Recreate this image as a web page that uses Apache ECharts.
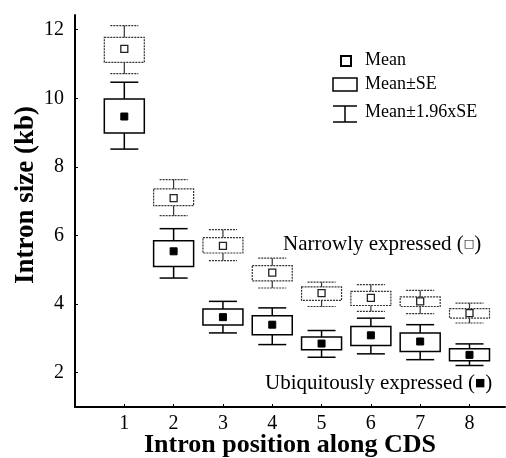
<!DOCTYPE html>
<html>
<head>
<meta charset="utf-8">
<style>
  html, body { margin: 0; padding: 0; background: #fff; }
  #chart { width: 506px; height: 458px; }
</style>
<script src="https://cdn.jsdelivr.net/npm/echarts@6/dist/echarts.min.js"></script>
</head>
<body>
<div id="chart"></div>
<script>
// intron position along CDS
var positions = [1, 2, 3, 4, 5, 6, 7, 8];
var xTicks = [1, 2, 3, 4, 5, 6, 7, 8];
var yTicks = [2, 4, 6, 8, 10, 12];

// narrowly expressed genes (kb)
var narrowMean = [11.44, 7.09, 5.70, 4.92, 4.32, 4.18, 4.08, 3.74];
var narrowSeHi = [11.78, 7.36, 5.94, 5.12, 4.50, 4.37, 4.21, 3.87];
var narrowSeLo = [11.05, 6.87, 5.49, 4.68, 4.11, 3.96, 3.93, 3.59];
var narrowCiHi = [12.12, 7.63, 6.17, 5.34, 4.64, 4.57, 4.40, 4.03];
var narrowCiLo = [10.72, 6.58, 5.27, 4.47, 3.93, 3.79, 3.72, 3.45];

// ubiquitously expressed genes (kb)
var ubiqMean = [9.47, 5.54, 3.62, 3.40, 2.85, 3.09, 2.91, 2.52];
var ubiqSeHi = [9.98, 5.85, 3.86, 3.66, 3.04, 3.35, 3.16, 2.70];
var ubiqSeLo = [8.99, 5.10, 3.39, 3.11, 2.67, 2.79, 2.62, 2.35];
var ubiqCiHi = [10.47, 6.20, 4.08, 3.89, 3.23, 3.59, 3.40, 2.84];
var ubiqCiLo = [8.52, 4.76, 3.16, 2.82, 2.45, 2.55, 2.38, 2.21];

function rows(mean, seLo, seHi, ciLo, ciHi) {
  return positions.map(function (p, i) {
    return [p, ciLo[i], seLo[i], mean[i], seHi[i], ciHi[i]];
  });
}

var SERIF = '"Liberation Serif", "DejaVu Serif", serif';

/* box + whisker 그리기 */
function boxRender(st) {
  return function (params, api) {
    var x = api.value(0);
    var ciLo = api.coord([x, api.value(1)]);
    var seLo = api.coord([x, api.value(2)]);
    var mean = api.coord([x, api.value(3)]);
    var seHi = api.coord([x, api.value(4)]);
    var ciHi = api.coord([x, api.value(5)]);
    var cx = mean[0];
    var bw = 40, cw = 28, ms = 7;
    var line = { stroke: st.color, lineWidth: st.width, lineDash: st.dash, fill: null };
    var stem = { stroke: st.color, lineWidth: st.width, fill: null };
    return {
      type: 'group',
      children: [
        { type: 'line', shape: { x1: cx, y1: ciHi[1], x2: cx, y2: seHi[1] }, style: stem },
        { type: 'line', shape: { x1: cx, y1: seLo[1], x2: cx, y2: ciLo[1] }, style: stem },
        { type: 'line', shape: { x1: cx - cw / 2, y1: ciHi[1], x2: cx + cw / 2, y2: ciHi[1] }, style: line },
        { type: 'line', shape: { x1: cx - cw / 2, y1: ciLo[1], x2: cx + cw / 2, y2: ciLo[1] }, style: line },
        { type: 'rect', shape: { x: cx - bw / 2, y: seHi[1], width: bw, height: seLo[1] - seHi[1] }, style: line },
        {
          type: 'rect',
          shape: { x: cx - ms / 2, y: mean[1] - ms / 2, width: ms, height: ms },
          style: st.filled
            ? { fill: '#000', stroke: '#000', lineWidth: 1 }
            : { fill: '#fff', stroke: '#222', lineWidth: 1.3 }
        }
      ]
    };
  };
}

var chart = echarts.init(document.getElementById('chart'));
var option = {
  animation: false,
  grid: { left: 75, top: 15, right: 1, bottom: 51, outerBoundsMode: 'none', containLabel: false },
  xAxis: {
    type: 'value',
    min: 0,
    max: 8.72,
    name: 'Intron position along CDS',
    nameLocation: 'middle',
    nameGap: 25,
    nameMoveOverlap: false,
    nameTextStyle: { fontFamily: SERIF, fontWeight: 'bold', fontSize: 26, color: '#000' },
    axisLine: { lineStyle: { color: '#000', width: 2 } },
    axisTick: { inside: true, length: 3, customValues: xTicks, lineStyle: { color: '#000' } },
    axisLabel: { customValues: xTicks, fontFamily: SERIF, fontSize: 20, color: '#000', margin: 7 },
    splitLine: { show: false }
  },
  yAxis: {
    type: 'value',
    min: 1,
    max: 12.43,
    name: 'Intron size (kb)',
    nameLocation: 'middle',
    nameGap: 35,
    nameMoveOverlap: false,
    nameTextStyle: { fontFamily: SERIF, fontWeight: 'bold', fontSize: 27, color: '#000', padding: [0, 0, 0, 32] },
    axisLine: { show: true, lineStyle: { color: '#000', width: 2 } },
    axisTick: { show: true, inside: true, length: 3, customValues: yTicks, lineStyle: { color: '#000' } },
    axisLabel: { customValues: yTicks, fontFamily: SERIF, fontSize: 20, color: '#000', margin: 11 },
    splitLine: { show: false }
  },
  series: [
    {
      name: 'Narrowly expressed',
      type: 'custom',
      renderItem: boxRender({ color: '#333', width: 1.2, dash: [2, 1], filled: false }),
      data: rows(narrowMean, narrowSeLo, narrowSeHi, narrowCiLo, narrowCiHi),
      encode: { x: 0, y: [1, 5] }
    },
    {
      name: 'Ubiquitously expressed',
      type: 'custom',
      renderItem: boxRender({ color: '#000', width: 1.5, dash: null, filled: true }),
      data: rows(ubiqMean, ubiqSeLo, ubiqSeHi, ubiqCiLo, ubiqCiHi),
      encode: { x: 0, y: [1, 5] }
    }
  ],
  graphic: [
    // legend
    { type: 'rect', shape: { x: 341, y: 56, width: 10, height: 10 }, style: { fill: '#fff', stroke: '#000', lineWidth: 2 } },
    { type: 'text', x: 365, y: 60, style: { text: 'Mean', font: '18px ' + SERIF, fill: '#000', verticalAlign: 'middle' } },
    { type: 'rect', shape: { x: 333, y: 78, width: 24, height: 13 }, style: { fill: '#fff', stroke: '#000', lineWidth: 1.5 } },
    { type: 'text', x: 365, y: 84, style: { text: 'Mean±SE', font: '18px ' + SERIF, fill: '#000', verticalAlign: 'middle' } },
    { type: 'line', shape: { x1: 333, y1: 106, x2: 357, y2: 106 }, style: { stroke: '#000', lineWidth: 1.5 } },
    { type: 'line', shape: { x1: 345, y1: 106, x2: 345, y2: 122 }, style: { stroke: '#000', lineWidth: 1.5 } },
    { type: 'line', shape: { x1: 333, y1: 122, x2: 357, y2: 122 }, style: { stroke: '#000', lineWidth: 1.5 } },
    { type: 'text', x: 365, y: 112, style: { text: 'Mean±1.96xSE', font: '18px ' + SERIF, fill: '#000', verticalAlign: 'middle' } },
    // annotations
    {
      type: 'text', x: 283, y: 244,
      style: {
        text: '{a|Narrowly expressed (}{s|□}{a|)}',
        verticalAlign: 'middle',
        rich: {
          a: { fontFamily: SERIF, fontSize: 21, fill: '#000' },
          s: { fontFamily: '"DejaVu Sans"', fontSize: 11, fill: '#000' }
        }
      }
    },
    {
      type: 'text', x: 265, y: 383,
      style: {
        text: '{a|Ubiquitously expressed (}{s|■}{a|)}',
        verticalAlign: 'middle',
        rich: {
          a: { fontFamily: SERIF, fontSize: 21, fill: '#000' },
          s: { fontFamily: '"DejaVu Sans"', fontSize: 11, fill: '#000' }
        }
      }
    }
  ]
};
chart.setOption(option);
</script>
</body>
</html>
